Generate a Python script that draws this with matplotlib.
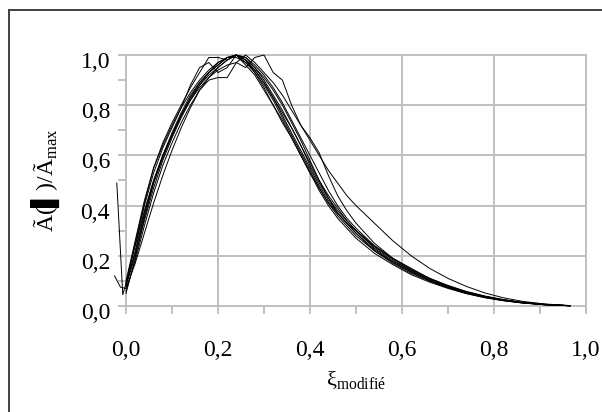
import numpy as np
import matplotlib.pyplot as plt
from matplotlib.lines import Line2D
from matplotlib.ticker import MultipleLocator, FuncFormatter
from matplotlib.transforms import ScaledTranslation

plt.rcParams['font.family'] = ['Liberation Serif', 'DejaVu Serif']
plt.rcParams['mathtext.fontset'] = 'custom'
plt.rcParams['mathtext.rm'] = 'Liberation Serif'

nan = np.nan

# common abscissa (xi modifie)
xi = [0.0, 0.02, 0.04, 0.06, 0.08, 0.10, 0.12, 0.14, 0.16, 0.18, 0.20, 0.22,
      0.24, 0.26, 0.28, 0.30, 0.32, 0.34, 0.36, 0.38, 0.40, 0.42, 0.44, 0.46,
      0.48, 0.50, 0.54, 0.58, 0.62, 0.66, 0.70, 0.74, 0.78, 0.82, 0.86, 0.91, 0.965]

# normalised amplitude, one list per run
run1 = [0.08, 0.22, 0.37, 0.50, 0.60, 0.68, 0.76, 0.83, 0.89, 0.93, 0.96, 0.99,
        1.00, 0.98, 0.94, 0.89, 0.83, 0.77, 0.71, 0.64, 0.57, 0.50, 0.44, 0.39,
        0.34, 0.30, 0.23, 0.18, 0.14, 0.105, 0.078, 0.055, 0.038, 0.024, 0.014, 0.006, 0.001]
run2 = [0.10, 0.26, 0.42, 0.55, 0.64, 0.72, 0.79, 0.85, 0.90, 0.94, 0.97, 0.99,
        1.00, 0.97, 0.93, 0.88, 0.82, 0.75, 0.68, 0.61, 0.54, 0.47, 0.41, 0.36,
        0.32, 0.28, 0.22, 0.17, 0.13, 0.10, 0.072, 0.050, 0.034, 0.022, 0.013, 0.005, 0.001]
run3 = [0.07, 0.17, 0.29, 0.41, 0.52, 0.62, 0.71, 0.79, 0.86, 0.91, 0.95, 0.98,
        1.00, 0.99, 0.96, 0.92, 0.87, 0.81, 0.74, 0.67, 0.60, 0.53, 0.46, 0.40,
        0.35, 0.31, 0.24, 0.19, 0.145, 0.11, 0.082, 0.058, 0.040, 0.026, 0.015, 0.007, 0.001]
run4 = [0.09, 0.24, 0.40, 0.53, 0.63, 0.71, 0.79, 0.88, 0.95, 0.97, 0.93, 0.95,
        1.00, 0.98, 0.93, 0.87, 0.80, 0.73, 0.67, 0.60, 0.53, 0.47, 0.41, 0.37,
        0.33, 0.29, 0.22, 0.175, 0.135, 0.10, 0.075, 0.053, 0.036, 0.023, 0.013, 0.005, 0.001]
run5 = [0.06, 0.18, 0.32, 0.45, 0.56, 0.65, 0.73, 0.80, 0.86, 0.90, 0.91, 0.91,
        0.97, 1.00, 0.97, 0.93, 0.89, 0.84, 0.78, 0.72, 0.66, 0.60, 0.54, 0.49,
        0.44, 0.40, 0.33, 0.26, 0.20, 0.15, 0.11, 0.078, 0.052, 0.033, 0.019, 0.008, 0.002]
run6 = [0.08, 0.20, 0.34, 0.47, 0.58, 0.67, 0.75, 0.82, 0.87, 0.91, 0.94, 0.96,
        0.97, 0.95, 0.99, 1.00, 0.93, 0.90, 0.80, 0.72, 0.67, 0.61, 0.52, 0.44,
        0.38, 0.33, 0.25, 0.19, 0.15, 0.11, 0.080, 0.056, 0.038, 0.024, 0.014, 0.006, 0.001]
run7 = [0.09, 0.25, 0.41, 0.55, 0.65, 0.73, 0.80, 0.87, 0.93, 0.99, 0.99, 0.98,
        1.00, 0.96, 0.92, 0.86, 0.80, 0.74, 0.67, 0.60, 0.53, 0.46, 0.40, 0.35,
        0.31, 0.27, 0.21, 0.165, 0.125, 0.095, 0.070, 0.049, 0.033, 0.021, 0.012, 0.005, 0.001]
run8 = [nan, 0.24, 0.38, 0.50, 0.60, 0.68, 0.76, 0.83, 0.88, 0.92, 0.95, 0.98,
        1.00, 0.99, 0.95, 0.90, 0.84, 0.78, 0.71, 0.64, 0.56, 0.49, 0.43, 0.38,
        0.34, 0.30, 0.235, 0.185, 0.14, 0.105, 0.078, 0.055, 0.037, 0.024, 0.014, 0.006, 0.001]
run9 = [0.05, 0.19, 0.35, 0.49, 0.60, 0.69, 0.77, 0.84, 0.89, 0.93, 0.96, 0.99,
        1.00, 0.98, 0.95, 0.91, 0.86, 0.80, 0.73, 0.66, 0.58, 0.50, 0.43, 0.37,
        0.33, 0.30, 0.24, 0.19, 0.145, 0.11, 0.08, 0.056, 0.038, 0.025, 0.015, 0.007, 0.001]
run10 = [0.09, 0.21, 0.36, 0.49, 0.59, 0.68, 0.76, 0.82, 0.88, 0.93, 0.97, 0.99,
         0.99, 0.97, 0.94, 0.89, 0.83, 0.76, 0.69, 0.62, 0.55, 0.48, 0.42, 0.37,
         0.33, 0.29, 0.225, 0.175, 0.135, 0.10, 0.074, 0.052, 0.035, 0.022, 0.013, 0.005, 0.001]

# odd starting points of two runs (left of the axis)
lead10_x = [-0.02, -0.007]
lead10_y = [0.49, 0.045]
lead3_x = [-0.025, -0.012]
lead3_y = [0.12, 0.075]

runs = [run1, run2, run3, run4, run5, run6, run7, run8, run9, run10]

fig = plt.figure(figsize=(6.02, 4.12), dpi=100)
ax = fig.add_axes([126 / 602, 1 - 306 / 412, 460 / 602, 251 / 412])

for i, r in enumerate(runs):
    x = list(xi)
    y = list(r)
    if i == 9:
        x = lead10_x + x
        y = lead10_y + y
    if i == 2:
        x = lead3_x + x
        y = lead3_y + y
    ax.plot(x, y, color='black', lw=0.7, clip_on=False, zorder=3)

grid_col = '#c0c0c0'
ax.set_xlim(0, 1.0)
ax.set_ylim(0, 1.0)
ax.xaxis.set_major_locator(MultipleLocator(0.2))
ax.xaxis.set_minor_locator(MultipleLocator(0.1))
ax.yaxis.set_major_locator(MultipleLocator(0.2))
ax.yaxis.set_minor_locator(MultipleLocator(0.1))
fmt = FuncFormatter(lambda v, p: f'{v:.1f}'.replace('.', ','))
ax.xaxis.set_major_formatter(fmt)
ax.yaxis.set_major_formatter(fmt)
ax.grid(True, which='major', color=grid_col, lw=1.4)
for s in ax.spines.values():
    s.set_color(grid_col)
    s.set_linewidth(1.4)
ax.tick_params(which='both', direction='out', length=5.5, width=1.4, color=grid_col)
ax.tick_params(axis='x', which='both', pad=19)
ax.tick_params(axis='y', which='both', pad=6)
ax.tick_params(labelsize=17)

ax.set_ylabel('Ã(▌)/Ã$_{\\mathregular{max}}$', fontsize=17, labelpad=13)
ax.set_xlabel('ξ$_{\\mathregular{modifié}}$', fontsize=16, labelpad=6)

# outer frame (left and top edges)
fig.add_artist(Line2D([8.5 / 602, 8.5 / 602], [0, 1 - 10 / 412],
                      transform=fig.transFigure, color='#404040', lw=1.4))
fig.add_artist(Line2D([8.5 / 602, 1], [1 - 10 / 412, 1 - 10 / 412],
                      transform=fig.transFigure, color='#404040', lw=1.4))

# y tick labels sit a little below their gridlines in the original
fig.canvas.draw()
shift = ScaledTranslation(0, -5 / 100, fig.dpi_scale_trans)
for lab in ax.get_yticklabels():
    lab.set_transform(lab.get_transform() + shift)

plt.savefig('out.png', dpi=100)
